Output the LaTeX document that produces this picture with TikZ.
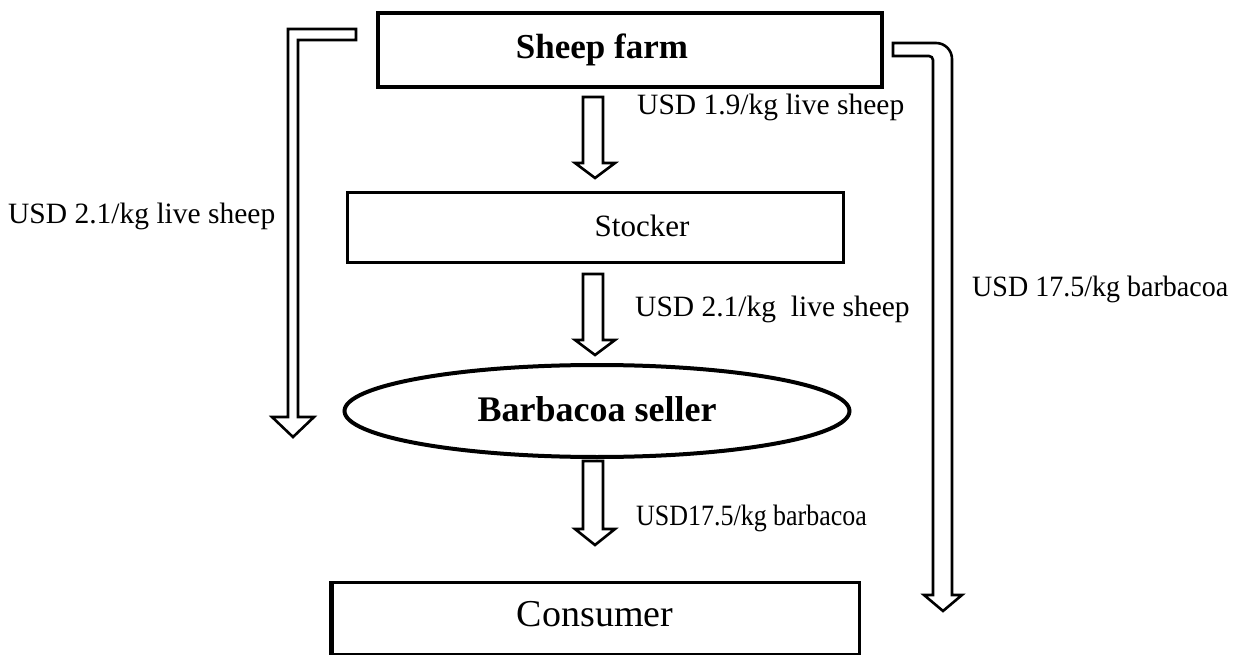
\documentclass[tikz,border=0pt]{standalone}
\usepackage{fontspec}
\setmainfont{Liberation Serif}
\newfontfamily\narrowA[FakeStretch=0.88]{Liberation Serif}
\newfontfamily\narrowB[FakeStretch=0.95]{Liberation Serif}
\usetikzlibrary{shapes.geometric}
\begin{document}
\begin{tikzpicture}[x=1pt,y=-1pt,
  box/.style={draw,line width=3pt,rectangle,inner sep=0pt},
  lbl/.style={anchor=west,inner sep=0pt,font=\fontsize{29.5}{32}\selectfont},
  harrow/.style={draw,line width=2.6pt,line join=miter,fill=white}]
\useasboundingbox (0,0) rectangle (1235,655);
% boxes
\node[box,line width=4pt,minimum width=504pt,minimum height=74pt] (farm) at (630,50) {};
\node[font=\bfseries\fontsize{35}{38}\selectfont] (farmt) at (602,50) {Sheep farm};
\node[box,minimum width=496pt,minimum height=70pt] (stock) at (595,228) {};
\node[font=\fontsize{31}{34}\selectfont] (stockt) at (642,226) {Stocker};
\node[draw,ellipse,line width=4pt,minimum width=505pt,minimum height=92pt,inner sep=0pt] (sell) at (597,411) {};
\node[font=\bfseries\fontsize{36}{38}\selectfont] (sellt) at (597,409) {Barbacoa seller};
\node[box,minimum width=527pt,minimum height=72pt] (cons) at (596,618) {};
\node[font=\fontsize{38}{40}\selectfont] (const) at (595,614) {Consumer};
% left thick edge of consumer box
\draw[line width=4.5pt] (cons.south west) -- (cons.north west);
% down arrows
\foreach \t/\h/\b in {97/163/178, 274/340/355, 461/529/545}{
  \draw[harrow] (583,\t) -- (603,\t) -- (603,\h) -- (615,\h) -- (595,\b) -- (575,\h) -- (583,\h) -- cycle;
}
% labels
\node[lbl] (l1) at (637,107) {USD 1.9/kg live sheep};
\node[lbl] (l2) at (635,309) {USD 2.1/kg\ \ live sheep};
\node[lbl,font=\narrowA\fontsize{29.5}{32}\selectfont] (l3) at (636,518) {USD17.5/kg barbacoa};
\node[lbl] (l4) at (8,216) {USD 2.1/kg live sheep};
\node[lbl,font=\narrowB\fontsize{29.5}{32}\selectfont] (l5) at (972,289) {USD 17.5/kg barbacoa};
% left bent arrow
\draw[harrow] (356,29) -- (288,29) -- (288,417) -- (272,417) -- (293,437) -- (314,417) -- (298,417) -- (298,40) -- (356,40) -- cycle;
% right bent arrow
\draw[harrow] (893,43) [rounded corners=16pt] -- (952,43) [sharp corners] -- (952,595) -- (962,595) -- (943,611) -- (924,595) -- (933,595) [rounded corners=4pt] -- (933,56) [sharp corners] -- (893,56) -- cycle;
\end{tikzpicture}
\end{document}
